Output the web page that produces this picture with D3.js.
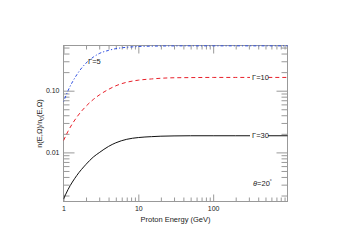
<!DOCTYPE html>
<html>
<head>
<meta charset="utf-8">
<script src="https://cdn.jsdelivr.net/npm/d3@7"></script>
<style>
  body { margin: 0; background: #fff; }
  svg { display: block; font-family: "Liberation Sans", Arial, sans-serif; }
  .axis path { stroke: #999; }
  .axis line { stroke: #999; }
  .axis text { fill: #222; font-size: 7px; }
</style>
</head>
<body>
<svg id="chart" width="351" height="248"></svg>
<script>
// proton energy (GeV) samples
const energy = [1, 1.15, 1.5, 2, 2.5, 3, 4, 5, 7, 10, 15, 20, 30, 50, 100, 200, 500, 1000];
// ratio n(E,Ω)/n0(E,Ω) for each Lorentz factor
const gamma5 = [0.066, 0.10, 0.18, 0.28, 0.35, 0.40, 0.45, 0.48, 0.505, 0.52, 0.527, 0.53, 0.532, 0.533, 0.533, 0.533, 0.533, 0.533];
const gamma10 = [0.0155, 0.022, 0.037, 0.056, 0.072, 0.085, 0.105, 0.12, 0.137, 0.148, 0.155, 0.159, 0.162, 0.163, 0.164, 0.164, 0.164, 0.164];
const gamma30 = [0.00175, 0.0025, 0.0042, 0.0064, 0.0084, 0.0099, 0.0125, 0.0143, 0.0163, 0.0174, 0.018, 0.0183, 0.0185, 0.0186, 0.0186, 0.0186, 0.0186, 0.0186];

const xTicks = [1, 10, 100];
const xTickLabels = ["1", "10", "100"];
const yTicks = [0.01, 0.1];
const yTickLabels = ["0.01", "0.10"];

const svg = d3.select("#chart");
const margin = {left: 63.5, right: 64, top: 45.5, bottom: 46.5};
const W = 351, H = 248;

const x = d3.scaleLog().domain([1, 1000]).range([margin.left, 288]);
const y = d3.scaleLog().domain([0.0016, 0.54]).range([H - margin.bottom, margin.top]);

const minorX = [];
[1, 10, 100].forEach(function (d) { for (let k = 2; k <= 9; k++) minorX.push(d * k); });
const minorY = [];
[0.001, 0.01, 0.1].forEach(function (d) {
    for (let k = 1; k <= 9; k++) {
        const v = +(d * k).toPrecision(3);
        if (v > y.domain()[0] && v < y.domain()[1] && yTicks.indexOf(v) < 0) minorY.push(v);
    }
});

const x0 = x.range()[0], x1 = 287.5, y0 = y.range()[0], y1 = y.range()[1];

// frame
svg.append("rect")
    .attr("x", x0).attr("y", y1)
    .attr("width", x1 - x0).attr("height", y0 - y1)
    .attr("fill", "none").attr("stroke", "#999").attr("stroke-width", 1);

function noLabel() { return ""; }

// bottom
svg.append("g").attr("class", "axis").attr("transform", "translate(0," + y0 + ")")
    .call(d3.axisBottom(x).tickValues(minorX).tickSize(-4).tickFormat(noLabel))
    .call(g => g.select(".domain").remove());
svg.append("g").attr("class", "axis").attr("transform", "translate(0," + y0 + ")")
    .call(d3.axisBottom(x).tickValues(xTicks).tickSize(-7).tickPadding(5)
        .tickFormat((d, i) => xTickLabels[i]))
    .call(g => g.select(".domain").remove());
// top
svg.append("g").attr("class", "axis").attr("transform", "translate(0," + y1 + ")")
    .call(d3.axisTop(x).tickValues(minorX).tickSize(-4).tickFormat(noLabel))
    .call(g => g.select(".domain").remove());
svg.append("g").attr("class", "axis").attr("transform", "translate(0," + y1 + ")")
    .call(d3.axisTop(x).tickValues(xTicks).tickSize(-8).tickFormat(noLabel))
    .call(g => g.select(".domain").remove());
// left
svg.append("g").attr("class", "axis").attr("transform", "translate(" + x0 + ",0)")
    .call(d3.axisLeft(y).tickValues(minorY).tickSize(-6).tickFormat(noLabel))
    .call(g => g.select(".domain").remove());
svg.append("g").attr("class", "axis").attr("transform", "translate(" + x0 + ",0)")
    .call(d3.axisLeft(y).tickValues(yTicks).tickSize(-11).tickPadding(4)
        .tickFormat((d, i) => yTickLabels[i]))
    .call(g => g.select(".domain").remove())
    .call(g => g.selectAll("text").attr("x", -4));
// right
svg.append("g").attr("class", "axis").attr("transform", "translate(" + x1 + ",0)")
    .call(d3.axisRight(y).tickValues(minorY).tickSize(-6).tickFormat(noLabel))
    .call(g => g.select(".domain").remove());
svg.append("g").attr("class", "axis").attr("transform", "translate(" + x1 + ",0)")
    .call(d3.axisRight(y).tickValues(yTicks).tickSize(-11).tickFormat(noLabel))
    .call(g => g.select(".domain").remove());

// curves
const line = d3.line()
    .x(d => x(d[0]))
    .y(d => y(d[1]))
    .curve(d3.curveMonotoneX);

const series = [
    {vals: gamma5, color: "#2f4fe0", dash: "1.2,2,3,2", width: 1},
    {vals: gamma10, color: "#e8202a", dash: "4,3", width: 1},
    {vals: gamma30, color: "#111", dash: null, width: 1}
];

svg.append("defs").append("clipPath").attr("id", "clip")
    .append("rect").attr("x", x0).attr("y", y1 - 1).attr("width", x1 - x0).attr("height", y0 - y1 + 1);

series.forEach(function (s) {
    svg.append("path")
        .datum(energy.map((e, i) => [e, s.vals[i]]))
        .attr("clip-path", "url(#clip)")
        .attr("fill", "none")
        .attr("stroke", s.color)
        .attr("stroke-width", s.width)
        .attr("stroke-dasharray", s.dash)
        .attr("d", line);
});

// curve labels
function label(tx, ty, txt, gap) {
    if (gap) {
        svg.append("rect").attr("x", tx - 2).attr("y", ty - 4).attr("width", 18).attr("height", 8).attr("fill", "#fff");
    }
    const t = svg.append("text").attr("x", tx).attr("y", ty).attr("dy", "0.35em")
        .attr("font-size", 7.5).attr("fill", "#222");
    return t.text(txt);
}
label(88, 61.5, "Γ=5", false);
label(252, y(0.164), "Γ=10", true);
label(252, y(0.0186), "Γ=30", true);

const th = svg.append("text").attr("x", 253).attr("y", 183).attr("dy", "0.35em")
    .attr("font-size", 7.5).attr("fill", "#222");
th.append("tspan").attr("font-style", "italic").text("θ");
th.append("tspan").text("=20");
th.append("tspan").attr("font-size", 5).attr("dy", "-2.5").text("°");

// axis titles
svg.append("text")
    .attr("x", (x0 + x1) / 2).attr("y", 219).attr("dy", "0.35em")
    .attr("text-anchor", "middle").attr("font-size", 7.5).attr("fill", "#222")
    .text("Proton Energy (GeV)");

const yl = svg.append("text")
    .attr("transform", "translate(39.5," + ((y0 + y1) / 2) + ") rotate(-90)")
    .attr("dy", "0.35em")
    .attr("text-anchor", "middle").attr("font-size", 7.5).attr("fill", "#222");
yl.append("tspan").text("n(E,Ω)/n");
yl.append("tspan").attr("font-size", 5).attr("dy", 1.5).text("0");
yl.append("tspan").attr("dy", -1.5).text("(E,Ω)");
</script>
</body>
</html>
